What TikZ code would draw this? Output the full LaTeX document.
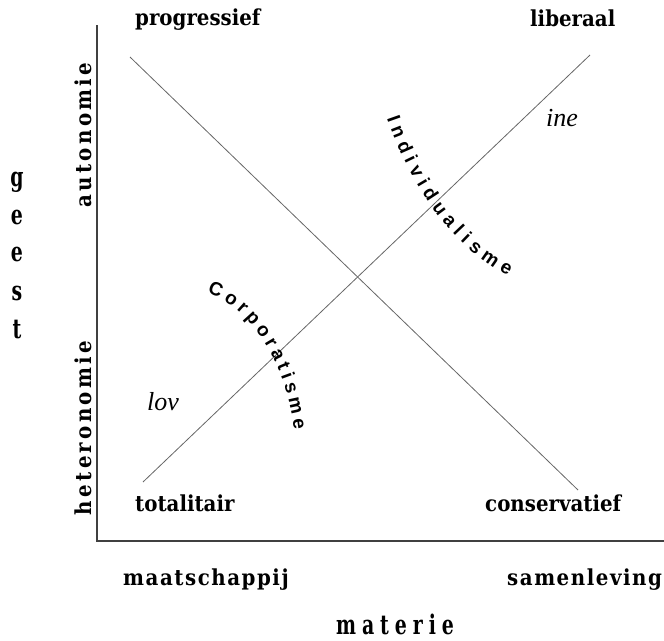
\documentclass[tikz,border=0pt]{standalone}
\usepackage{fontspec}
\setmainfont{DejaVu Serif}[FakeStretch=0.9]
\newfontfamily\spacedfont{DejaVu Serif}[FakeStretch=0.9, LetterSpace=15]
\newfontfamily\widefont{DejaVu Serif}[FakeStretch=0.9, LetterSpace=7]
\newfontfamily\tallfont{DejaVu Serif}[FakeStretch=0.7, LetterSpace=22]
\newfontfamily\wordfont{Liberation Sans}
\newfontfamily\notefont{Liberation Serif}
\usetikzlibrary{decorations.text}

\begin{document}
\begin{tikzpicture}[x=1pt, y=-1pt,
  lbl/.style={font=\fontsize{22}{22}\selectfont\bfseries, inner sep=0pt},
  widelbl/.style={font=\widefont\fontsize{22}{22}\selectfont\bfseries, inner sep=0pt},
  axislbl/.style={font=\spacedfont\fontsize{22}{22}\selectfont\bfseries, inner sep=0pt, rotate=90},
  tall/.style={font=\tallfont\fontsize{27}{27}\selectfont\bfseries, inner sep=0pt},
  note/.style={font=\notefont\itshape\fontsize{26}{26}\selectfont, inner sep=0pt},
  axisline/.style={draw=black!75, line width=1.6pt},
  diag/.style={draw=black!60, line width=0.8pt},
  bent/.style={decorate, decoration={text along path, text align={fit to path},
    text={|\wordfont\bfseries\fontsize{19}{19}\selectfont|#1}}}
]
  \useasboundingbox (0,0) rectangle (664,640);
  % Axes
  \coordinate (origin) at (97,541);
  \coordinate (ytop) at (97,25);
  \coordinate (xend) at (664,541);
  \draw[axisline] (ytop) -- (origin) -- (xend);
  % Diagonals
  \coordinate (prog) at (130,57);
  \coordinate (cons) at (578,490);
  \coordinate (tot) at (143,482);
  \coordinate (lib) at (590,55);
  \draw[diag] (prog) -- (cons);
  \draw[diag] (tot) -- (lib);
  % Corner labels
  \node[lbl, anchor=west] (progressief) at (135,20) {progressief};
  \node[lbl, anchor=west] (liberaal) at (530,18) {liberaal};
  \node[lbl, anchor=west] (totalitair) at (135,503) {totalitair};
  \node[lbl, anchor=west] (conservatief) at (485,503) {conservatief};
  \node[widelbl, anchor=west] (maatschappij) at (123,580) {maatschappij};
  \node[widelbl, anchor=west] (samenleving) at (507,580) {samenleving};
  % Axis labels
  \node[axislbl] (autonomie) at (83,135) {autonomie};
  \node[axislbl] (heteronomie) at (83,428) {heteronomie};
  \node[tall, anchor=base] (materie) at (395,634) {materie};
  \foreach \ch/\yy [count=\i] in {g/182, e/217, e/254, s/293, t/330}
    \node[tall] (geest\i) at (17,\yy) {\ch};
  % Small notes
  \node[note] (ine) at (562,118) {ine};
  \node[note] (lov) at (163,402) {lov};
  % Bent words
  \path[bent=Corporatisme] (207,293) .. controls (245,305) and (285,355) .. (294,430);
  \path[bent=Individualisme] (387,118) .. controls (405,170) and (440,240) .. (508,276);
\end{tikzpicture}
\end{document}
